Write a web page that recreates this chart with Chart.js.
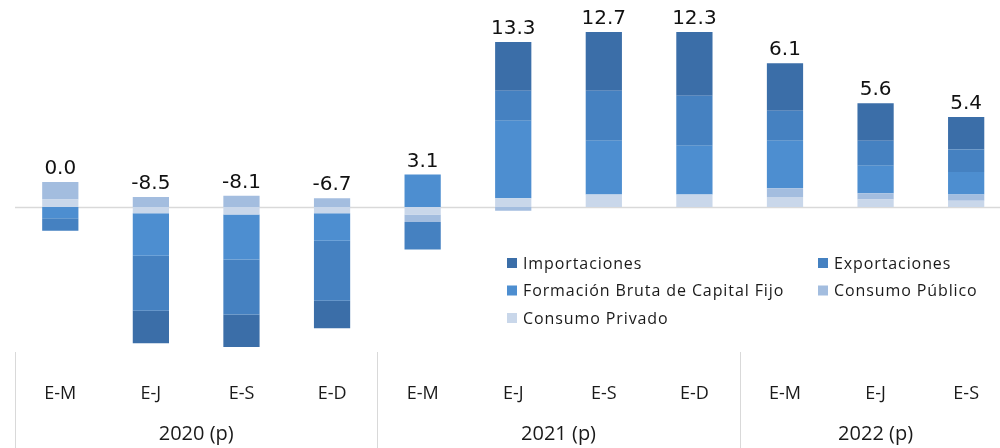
<!DOCTYPE html>
<html>
<head>
<meta charset="utf-8">
<script src="https://cdn.jsdelivr.net/npm/chart.js@4.4.1/dist/chart.umd.min.js"></script>
<style>
  html, body { margin: 0; padding: 0; background: #fff; overflow: hidden; }
  #wrap { width: 1000px; height: 448px; overflow: hidden; position: relative; }
  #wrap canvas { position: absolute; left: 0; top: 0; }
</style>
</head>
<body>
<div id="wrap"><canvas id="chart" width="1012" height="448"></canvas></div>
<script>
// periods (E-M = enero-marzo, etc.) and year groups
const periods = ['E-M', 'E-J', 'E-S', 'E-D', 'E-M', 'E-J', 'E-S', 'E-D', 'E-M', 'E-J', 'E-S'];
const years = ['2020 (p)', '2021 (p)', '2022 (p)'];
const yearSpans = [4, 4, 3];

// value shown above each column
const totals = [0.0, -8.5, -8.1, -6.7, 3.1, 13.3, 12.7, 12.3, 6.1, 5.6, 5.4];

// stacked components
const consumoPrivado = [0.6, -0.5, -0.6, -0.5, -0.6, 0.7, 1.0, 1.0, 0.8, 0.6, 0.5];
const consumoPublico = [1.4, 0.8, 0.9, 0.7, -0.6, -0.3, 0.0, 0.0, 0.7, 0.5, 0.5];
const formacionBruta = [-0.9, -3.4, -3.6, -2.2, 2.6, 6.2, 4.3, 3.9, 3.8, 2.2, 1.8];
const exportaciones = [-1.0, -4.4, -4.4, -4.8, -2.2, 2.4, 4.0, 4.0, 2.4, 2.0, 1.8];
const importaciones = [0.0, -2.6, -2.6, -2.2, 0.0, 3.9, 4.7, 5.1, 3.8, 3.0, 2.6];

const yMin = -11.44;
const yMax = 14.96;

const FONT = '"Open Sans", sans-serif';

const datasets = [
    { label: 'Consumo Privado', data: consumoPrivado, backgroundColor: '#c9d7ea' },
    { label: 'Consumo Público', data: consumoPublico, backgroundColor: '#a3bddf' },
    { label: 'Formación Bruta de Capital Fijo', data: formacionBruta, backgroundColor: '#4d8ed0' },
    { label: 'Exportaciones', data: exportaciones, backgroundColor: '#4581c1' },
    { label: 'Importaciones', data: importaciones, backgroundColor: '#3b6ea8' },
].map(d => ({ ...d, borderWidth: 0, barPercentage: 0.4, categoryPercentage: 1.0 }));

// zero line, year separators and year labels
const axisDecor = {
    id: 'axisDecor',
    beforeDatasetsDraw(chart) {
        const { ctx, chartArea, scales: { y } } = chart;
        const y0 = Math.round(y.getPixelForValue(0)) + 0.5;
        ctx.save();
        ctx.strokeStyle = '#d9d9d9';
        ctx.lineWidth = 1.5;
        ctx.beginPath();
        ctx.moveTo(chartArea.left, y0);
        ctx.lineTo(chartArea.right, y0);
        ctx.stroke();
        ctx.restore();
    },
    afterDraw(chart) {
        const { ctx, chartArea, scales: { x } } = chart;
        const step = x.getPixelForValue(1) - x.getPixelForValue(0);
        ctx.save();
        ctx.strokeStyle = '#d9d9d9';
        ctx.lineWidth = 1;
        let start = 0;
        for (let g = 0; g <= yearSpans.length; g++) {
            const idx = g < yearSpans.length ? start : periods.length;
            const px = Math.round(x.getPixelForValue(idx) - step / 2) + 0.5;
            ctx.beginPath();
            ctx.moveTo(px, chartArea.bottom + 2);
            ctx.lineTo(px, chart.height);
            ctx.stroke();
            if (g < yearSpans.length) start += yearSpans[g];
        }
        ctx.fillStyle = '#1a1a1a';
        ctx.font = '20px ' + FONT;
        ctx.textAlign = 'center';
        ctx.textBaseline = 'middle';
        start = 0;
        years.forEach((yr, g) => {
            const a = x.getPixelForValue(start) - step / 2;
            const b = x.getPixelForValue(start + yearSpans[g] - 1) + step / 2;
            ctx.fillText(yr, (a + b) / 2, 434);
            start += yearSpans[g];
        });
        ctx.restore();
    }
};

// totals above each column
const totalLabels = {
    id: 'totalLabels',
    afterDatasetsDraw(chart) {
        const { ctx, scales: { x, y } } = chart;
        ctx.save();
        ctx.fillStyle = '#111';
        ctx.font = '20px "DejaVu Sans", sans-serif';
        ctx.textAlign = 'center';
        ctx.textBaseline = 'bottom';
        totals.forEach((t, i) => {
            let pos = 0;
            chart.data.datasets.forEach(ds => { if (ds.data[i] > 0) pos += ds.data[i]; });
            ctx.fillText(t.toFixed(1), x.getPixelForValue(i), y.getPixelForValue(pos) - 3);
        });
        ctx.restore();
    }
};

// two-column legend, series listed from top of the stack down
const gridLegend = {
    id: 'gridLegend',
    afterDraw(chart) {
        const { ctx } = chart;
        const items = chart.data.datasets.slice().reverse();
        const colX = [507, 818];
        const rowY = [263, 290.5, 318];
        ctx.save();
        ctx.font = '16px ' + FONT;
        ctx.letterSpacing = '0.9px';
        ctx.textBaseline = 'middle';
        items.forEach((ds, i) => {
            const cx = colX[i % 2];
            const cy = rowY[Math.floor(i / 2)];
            ctx.fillStyle = ds.backgroundColor;
            ctx.fillRect(cx, cy - 5, 10, 10);
            ctx.fillStyle = '#1a1a1a';
            ctx.fillText(ds.label, cx + 16, cy + 1);
        });
        ctx.restore();
    }
};

new Chart(document.getElementById('chart'), {
    type: 'bar',
    data: { labels: periods, datasets },
    options: {
        responsive: false,
        animation: false,
        layout: { padding: { left: 15, right: 0, top: 20, bottom: 0 } },
        plugins: { legend: { display: false }, tooltip: { enabled: false } },
        scales: {
            x: {
                stacked: true,
                grid: { display: false, drawTicks: false },
                border: { display: false },
                ticks: { color: '#1a1a1a', font: { family: FONT, size: 18 }, padding: 33, maxRotation: 0 },
                afterFit(scale) { scale.height = 98; }
            },
            y: {
                stacked: true,
                display: false,
                min: yMin,
                max: yMax
            }
        }
    },
    plugins: [axisDecor, totalLabels, gridLegend]
});
</script>
</body>
</html>
